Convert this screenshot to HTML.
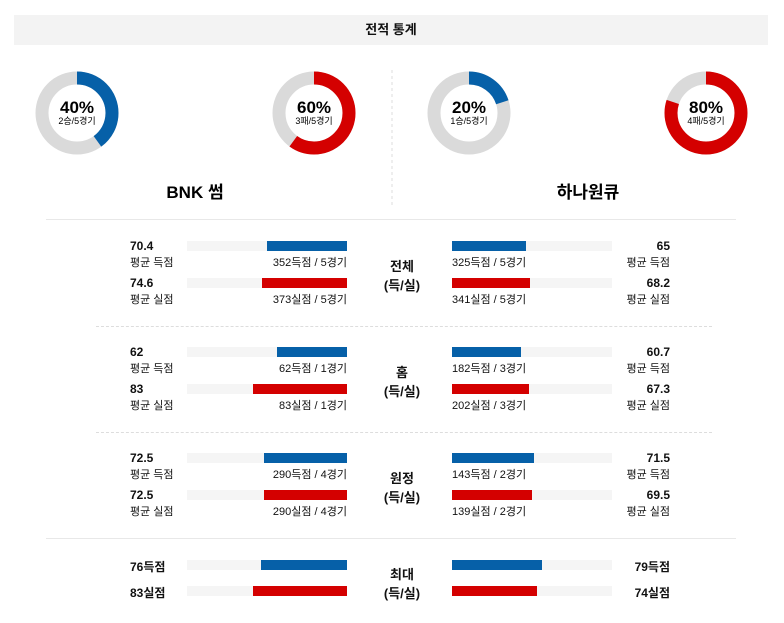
<!DOCTYPE html>
<html><head><meta charset="utf-8"><style>
body{margin:0;width:784px;height:623px;background:#fff;position:relative;overflow:hidden;font-family:"Liberation Sans","Noto Sans CJK KR",sans-serif;color:#111}
.a{position:absolute;white-space:nowrap}
.hdr{left:14px;top:15px;width:754px;height:30px;background:#f3f3f3;text-align:center;line-height:30px;font-size:13px;font-weight:bold}
.v{font-size:12px;font-weight:bold}
.l{font-size:11px}
.bg{position:absolute;height:10px;background:#f5f5f5;width:160px}
.f{position:absolute;height:10px}
.b{background:#0660a8}.r{background:#d40000}
.c{font-size:13px;font-weight:bold;text-align:center;width:60px}
</style></head><body>
<div class="a hdr">전적 통계</div>
<svg class="a" style="left:0;top:0" width="784" height="220">
<g fill="none" stroke-width="13">
<circle cx="77" cy="113" r="35" stroke="#dadada"/>
<circle cx="77" cy="113" r="35" stroke="#0660a8" stroke-dasharray="87.96 300" transform="rotate(-90 77 113)"/>
<circle cx="314" cy="113" r="35" stroke="#dadada"/>
<circle cx="314" cy="113" r="35" stroke="#d40000" stroke-dasharray="131.9 300" transform="rotate(-90 314 113)"/>
<circle cx="469" cy="113" r="35" stroke="#dadada"/>
<circle cx="469" cy="113" r="35" stroke="#0660a8" stroke-dasharray="43.98 300" transform="rotate(-90 469 113)"/>
<circle cx="706" cy="113" r="35" stroke="#dadada"/>
<circle cx="706" cy="113" r="35" stroke="#d40000" stroke-dasharray="175.9 300" transform="rotate(-90 706 113)"/>
</g>
<g font-family="Liberation Sans,Noto Sans CJK KR,sans-serif" text-anchor="middle">
<text x="77" y="113" font-size="17" font-weight="bold">40%</text><text x="77" y="124" font-size="9">2승/5경기</text>
<text x="314" y="113" font-size="17" font-weight="bold">60%</text><text x="314" y="124" font-size="9">3패/5경기</text>
<text x="469" y="113" font-size="17" font-weight="bold">20%</text><text x="469" y="124" font-size="9">1승/5경기</text>
<text x="706" y="113" font-size="17" font-weight="bold">80%</text><text x="706" y="124" font-size="9">4패/5경기</text>
<text x="195" y="198" font-size="17" font-weight="bold">BNK 썸</text>
<text x="588" y="198" font-size="17" font-weight="bold">하나원큐</text>
</g>
<line x1="392" y1="70" x2="392" y2="205" stroke="#ddd" stroke-dasharray="3 3"/>
</svg>
<div class="a" style="left:46px;top:219px;width:690px;border-top:1px solid #e8e8e8"></div>
<div class="a" style="left:96px;top:326px;width:616px;border-top:1px dashed #ddd"></div>
<div class="a" style="left:96px;top:432px;width:616px;border-top:1px dashed #ddd"></div>
<div class="a" style="left:46px;top:538px;width:690px;border-top:1px solid #e8e8e8"></div>

<!-- section template rows -->
<div id="s"></div>
<script></script>

<!-- Section 1 -->
<div class="a v" style="left:130px;top:239px">70.4</div><div class="a l" style="left:130px;top:254px">평균 득점</div>
<div class="a v" style="left:130px;top:276px">74.6</div><div class="a l" style="left:130px;top:291px">평균 실점</div>
<div class="bg" style="left:187px;top:241px"></div><div class="f b" style="left:267px;width:80px;top:241px"></div>
<div class="bg" style="left:187px;top:278px"></div><div class="f r" style="left:262px;width:85px;top:278px"></div>
<div class="a l" style="right:437px;top:254px">352득점 / 5경기</div><div class="a l" style="right:437px;top:291px">373실점 / 5경기</div>
<div class="a c" style="left:372px;top:256px">전체</div><div class="a c" style="left:372px;top:275px">(득/실)</div>
<div class="bg" style="left:452px;top:241px"></div><div class="f b" style="left:452px;width:74px;top:241px"></div>
<div class="bg" style="left:452px;top:278px"></div><div class="f r" style="left:452px;width:78px;top:278px"></div>
<div class="a l" style="left:452px;top:254px">325득점 / 5경기</div><div class="a l" style="left:452px;top:291px">341실점 / 5경기</div>
<div class="a v" style="right:114px;top:239px">65</div><div class="a l" style="right:114px;top:254px">평균 득점</div>
<div class="a v" style="right:114px;top:276px">68.2</div><div class="a l" style="right:114px;top:291px">평균 실점</div>

<!-- Section 2 -->
<div class="a v" style="left:130px;top:345px">62</div><div class="a l" style="left:130px;top:360px">평균 득점</div>
<div class="a v" style="left:130px;top:382px">83</div><div class="a l" style="left:130px;top:397px">평균 실점</div>
<div class="bg" style="left:187px;top:347px"></div><div class="f b" style="left:277px;width:70px;top:347px"></div>
<div class="bg" style="left:187px;top:384px"></div><div class="f r" style="left:253px;width:94px;top:384px"></div>
<div class="a l" style="right:437px;top:360px">62득점 / 1경기</div><div class="a l" style="right:437px;top:397px">83실점 / 1경기</div>
<div class="a c" style="left:372px;top:362px">홈</div><div class="a c" style="left:372px;top:381px">(득/실)</div>
<div class="bg" style="left:452px;top:347px"></div><div class="f b" style="left:452px;width:69px;top:347px"></div>
<div class="bg" style="left:452px;top:384px"></div><div class="f r" style="left:452px;width:77px;top:384px"></div>
<div class="a l" style="left:452px;top:360px">182득점 / 3경기</div><div class="a l" style="left:452px;top:397px">202실점 / 3경기</div>
<div class="a v" style="right:114px;top:345px">60.7</div><div class="a l" style="right:114px;top:360px">평균 득점</div>
<div class="a v" style="right:114px;top:382px">67.3</div><div class="a l" style="right:114px;top:397px">평균 실점</div>

<!-- Section 3 -->
<div class="a v" style="left:130px;top:451px">72.5</div><div class="a l" style="left:130px;top:466px">평균 득점</div>
<div class="a v" style="left:130px;top:488px">72.5</div><div class="a l" style="left:130px;top:503px">평균 실점</div>
<div class="bg" style="left:187px;top:453px"></div><div class="f b" style="left:264px;width:83px;top:453px"></div>
<div class="bg" style="left:187px;top:490px"></div><div class="f r" style="left:264px;width:83px;top:490px"></div>
<div class="a l" style="right:437px;top:466px">290득점 / 4경기</div><div class="a l" style="right:437px;top:503px">290실점 / 4경기</div>
<div class="a c" style="left:372px;top:468px">원정</div><div class="a c" style="left:372px;top:487px">(득/실)</div>
<div class="bg" style="left:452px;top:453px"></div><div class="f b" style="left:452px;width:82px;top:453px"></div>
<div class="bg" style="left:452px;top:490px"></div><div class="f r" style="left:452px;width:80px;top:490px"></div>
<div class="a l" style="left:452px;top:466px">143득점 / 2경기</div><div class="a l" style="left:452px;top:503px">139실점 / 2경기</div>
<div class="a v" style="right:114px;top:451px">71.5</div><div class="a l" style="right:114px;top:466px">평균 득점</div>
<div class="a v" style="right:114px;top:488px">69.5</div><div class="a l" style="right:114px;top:503px">평균 실점</div>

<!-- Section 4 -->
<div class="a v" style="left:130px;top:558px">76득점</div>
<div class="a v" style="left:130px;top:584px">83실점</div>
<div class="bg" style="left:187px;top:560px"></div><div class="f b" style="left:261px;width:86px;top:560px"></div>
<div class="bg" style="left:187px;top:586px"></div><div class="f r" style="left:253px;width:94px;top:586px"></div>
<div class="a c" style="left:372px;top:564px">최대</div><div class="a c" style="left:372px;top:583px">(득/실)</div>
<div class="bg" style="left:452px;top:560px"></div><div class="f b" style="left:452px;width:90px;top:560px"></div>
<div class="bg" style="left:452px;top:586px"></div><div class="f r" style="left:452px;width:85px;top:586px"></div>
<div class="a v" style="right:114px;top:558px">79득점</div>
<div class="a v" style="right:114px;top:584px">74실점</div>
</body></html>
